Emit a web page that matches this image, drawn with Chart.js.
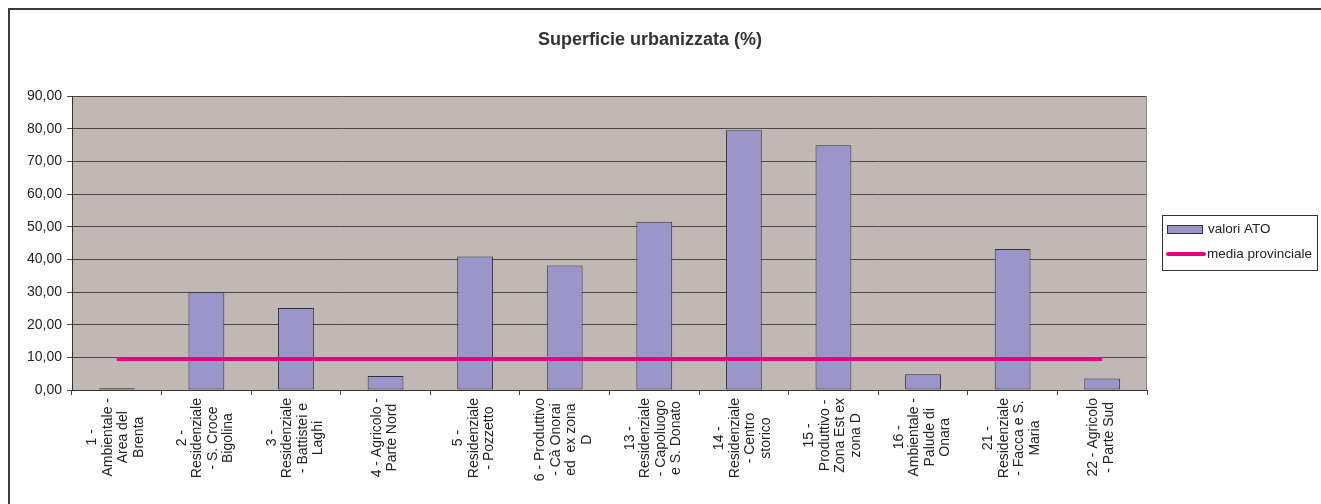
<!DOCTYPE html>
<html>
<head>
<meta charset="utf-8">
<script src="https://cdn.jsdelivr.net/npm/chart.js@4/dist/chart.umd.min.js"></script>
<style>
  html, body { margin: 0; padding: 0; background: #fff; }
  #wrap { position: relative; width: 1321px; height: 504px; overflow: hidden; }
  #frame { position: absolute; left: 8px; top: 8px; width: 1330px; height: 520px; border: 2px solid #3c3c3c; box-sizing: border-box; }
  canvas { position: absolute; left: 0; top: 0; }
</style>
</head>
<body>
<div id="wrap">
  <div id="frame"></div>
  <canvas id="c" width="1321" height="504"></canvas>
</div>
<script>
const chartTitle = "Superficie urbanizzata (%)";
const categories = [
  ["1 -", "Ambientale -", "Area del", "Brenta"],
  ["2 -", "Residenziale", "- S. Croce", "Bigolina"],
  ["3 -", "Residenziale", "- Battistei e", "Laghi"],
  ["4 - Agricolo -", "Parte Nord"],
  ["5 -", "Residenziale", "- Pozzetto"],
  ["6 - Produttivo", "- Cà Onorai", "ed  ex zona", "D"],
  ["13 -", "Residenziale", "- Capoluogo", "e S. Donato"],
  ["14 -", "Residenziale", "- Centro", "storico"],
  ["15 -", "Produttivo -", "Zona Est ex", "zona D"],
  ["16 -", "Ambientale -", "Palude di", "Onara"],
  ["21 -", "Residenziale", "- Facca e S.", "Maria"],
  ["22 - Agricolo", "- Parte Sud"]
];
const valoriATO = [0.5, 29.9, 25.1, 4.3, 40.9, 38.1, 51.5, 79.5, 74.9, 4.8, 43.2, 3.5];
const mediaProvinciale = [9.5, 9.5, 9.5, 9.5, 9.5, 9.5, 9.5, 9.5, 9.5, 9.5, 9.5, 9.5];
const seriesNames = ["valori ATO", "media provinciale"];
const yMin = 0, yMax = 90, yStep = 10;

const FONT = '"Liberation Sans", Arial, sans-serif';
const BAR_FILL = '#9b96c9';
const BAR_EDGE = '#333333';
const LINE_COL = '#e8007f';
const PLOT_BG = '#c0b8b5';

const plotBg = {
  id: 'plotBg',
  beforeDraw(chart) {
    const {ctx, chartArea: a} = chart;
    ctx.save();
    ctx.fillStyle = PLOT_BG;
    ctx.fillRect(a.left, a.top, a.right - a.left, a.bottom - a.top);
    ctx.restore();
  },
  afterDatasetsDraw(chart) {
    const {ctx, chartArea: a} = chart;
    ctx.save();
    ctx.strokeStyle = '#8a8a8a';
    ctx.lineWidth = 1;
    ctx.beginPath();
    ctx.moveTo(a.right - 0.5, a.top);
    ctx.lineTo(a.right - 0.5, a.bottom);
    ctx.stroke();
    ctx.restore();
  }
};

const xLabels = {
  id: 'xLabels',
  afterDraw(chart) {
    const {ctx} = chart;
    const xs = chart.scales.x;
    const top = chart.chartArea.bottom + 8;
    const lineH = 15.5;
    ctx.save();
    ctx.font = '14px ' + FONT;
    ctx.fillStyle = '#222';
    ctx.textAlign = 'center';
    ctx.textBaseline = 'middle';
    categories.forEach((lines, i) => {
      const x = xs.getPixelForValue(i);
      let maxW = 0;
      lines.forEach(l => { maxW = Math.max(maxW, ctx.measureText(l).width); });
      ctx.save();
      ctx.translate(x - 1, top + maxW / 2);
      ctx.rotate(-Math.PI / 2);
      const n = lines.length;
      lines.forEach((l, j) => {
        ctx.fillText(l, 0, (j - (n - 1) / 2) * lineH);
      });
      ctx.restore();
    });
    ctx.restore();
  }
};

const titleAndLegend = {
  id: 'titleAndLegend',
  afterDraw(chart) {
    const {ctx} = chart;
    ctx.save();
    ctx.font = 'bold 18px ' + FONT;
    ctx.fillStyle = '#333';
    ctx.textAlign = 'center';
    ctx.textBaseline = 'middle';
    ctx.fillText(chartTitle, 650, 40);

    // legend box
    ctx.fillStyle = '#fff';
    ctx.fillRect(1162.5, 215.5, 155, 55);
    ctx.strokeStyle = '#333';
    ctx.lineWidth = 1;
    ctx.strokeRect(1162.5, 215.5, 155, 55);

    ctx.fillStyle = BAR_FILL;
    ctx.fillRect(1167.5, 225.5, 35, 8);
    ctx.strokeStyle = BAR_EDGE;
    ctx.strokeRect(1167.5, 225.5, 35, 8);

    ctx.strokeStyle = LINE_COL;
    ctx.lineWidth = 4;
    ctx.lineCap = 'round';
    ctx.beginPath();
    ctx.moveTo(1168, 254);
    ctx.lineTo(1204, 254);
    ctx.stroke();

    ctx.font = '13.5px ' + FONT;
    ctx.fillStyle = '#222';
    ctx.textAlign = 'left';
    ctx.fillText(seriesNames[0], 1208, 229);
    ctx.fillText(seriesNames[1], 1207, 254);
    ctx.restore();
  }
};

new Chart(document.getElementById('c'), {
  data: {
    labels: categories.map(c => c.join(' ')),
    datasets: [
      {
        type: 'line',
        label: seriesNames[1],
        data: mediaProvinciale,
        borderColor: LINE_COL,
        borderWidth: 4,
        pointRadius: 0,
        fill: false,
        tension: 0,
        order: 1
      },
      {
        type: 'bar',
        label: seriesNames[0],
        data: valoriATO,
        backgroundColor: BAR_FILL,
        borderColor: BAR_EDGE,
        borderWidth: 1,
        borderSkipped: false,
        categoryPercentage: 1.0,
        barPercentage: 0.4,
        order: 2
      }
    ]
  },
  options: {
    responsive: false,
    animation: false,
    devicePixelRatio: 1,
    layout: { padding: { left: 0, top: 96, right: 174, bottom: 0 } },
    plugins: {
      legend: { display: false },
      title: { display: false },
      tooltip: { enabled: false }
    },
    scales: {
      x: {
        type: 'category',
        offset: true,
        grid: {
          offset: true,
          drawOnChartArea: false,
          drawTicks: true,
          tickLength: 5,
          color: '#444',
          lineWidth: 1
        },
        border: { display: true, color: '#333', width: 1 },
        ticks: { display: false },
        afterFit(s) { s.height = 114; }
      },
      y: {
        min: yMin,
        max: yMax,
        ticks: {
          stepSize: yStep,
          font: { family: FONT, size: 14 },
          color: '#222',
          padding: 5,
          callback: v => v.toFixed(2).replace('.', ',')
        },
        grid: {
          color: '#4a4a4a',
          lineWidth: 1,
          tickLength: 5,
          drawTicks: true
        },
        border: { display: true, color: '#333', width: 1 },
        afterFit(s) { s.width = 72; }
      }
    }
  },
  plugins: [plotBg, xLabels, titleAndLegend]
});
</script>
</body>
</html>
